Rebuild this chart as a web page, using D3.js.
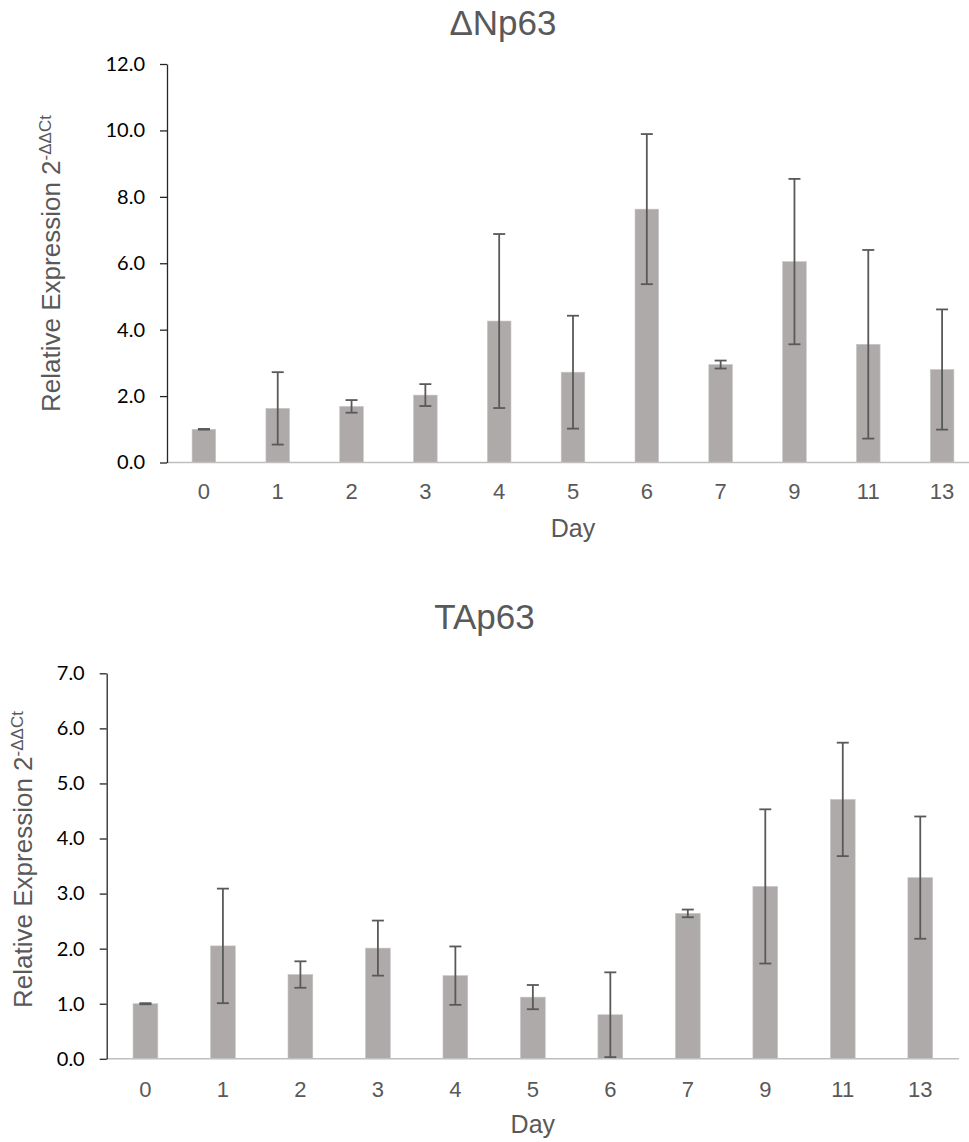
<!DOCTYPE html>
<html>
<head>
<meta charset="utf-8">
<script src="https://cdn.jsdelivr.net/npm/d3@7"></script>
<style>
  html, body { margin: 0; padding: 0; background: #fff; }
  svg { display: block; }
</style>
</head>
<body>
<svg id="fig" width="969" height="1142"></svg>
<script>
// Sampling days (shared by both panels)
const days = ["0", "1", "2", "3", "4", "5", "6", "7", "9", "11", "13"];

// ΔNp63 relative expression (mean) and error (±)
const dNp63Mean = [1.00, 1.63, 1.69, 2.03, 4.26, 2.72, 7.63, 2.95, 6.05, 3.56, 2.80];
const dNp63Err  = [0.01, 1.09, 0.19, 0.33, 2.62, 1.70, 2.26, 0.12, 2.49, 2.84, 1.81];

// TAp63 relative expression (mean) and error (±)
const tAp63Mean = [1.00, 2.05, 1.53, 2.01, 1.51, 1.12, 0.80, 2.64, 3.13, 4.71, 3.29];
const tAp63Err  = [0.01, 1.04, 0.24, 0.50, 0.53, 0.22, 0.77, 0.07, 1.40, 1.03, 1.11];

// Y-axis tick values
const dNp63Ticks = [0, 2, 4, 6, 8, 10, 12];
const tAp63Ticks = [0, 1, 2, 3, 4, 5, 6, 7];

const svg = d3.select("#fig");
const fmt = d3.format(".1f");

function drawPanel(p) {
  const g = svg.append("g");

  const x = d3.scaleBand()
    .domain(days)
    .range([p.left, p.right])
    .paddingInner(0.68)
    .paddingOuter(0.34);

  const y = d3.scaleLinear()
    .domain([0, p.yMax])
    .range([p.bottom, p.top]);

  const rows = days.map((d, i) => ({ day: d, mean: p.mean[i], err: p.err[i] }));

  // Bars
  g.selectAll("rect.bar")
    .data(rows)
    .join("rect")
    .attr("class", "bar")
    .attr("x", d => x(d.day))
    .attr("width", x.bandwidth())
    .attr("y", d => y(d.mean))
    .attr("height", d => y(0) - y(d.mean))
    .attr("fill", "#aeaaaa")
    .attr("stroke", "#c9c6c6")
    .attr("stroke-width", 0.6);

  // X axis baseline
  g.append("line")
    .attr("x1", p.left).attr("x2", p.right)
    .attr("y1", y(0)).attr("y2", y(0))
    .attr("stroke", "#bfbfbf")
    .attr("stroke-width", 1.5);

  // Error bars
  const capHalf = 6;
  const eb = g.selectAll("g.err")
    .data(rows)
    .join("g")
    .attr("class", "err")
    .attr("stroke", "#595959")
    .attr("stroke-width", 1.8);
  eb.append("line")
    .attr("x1", d => x(d.day) + x.bandwidth() / 2)
    .attr("x2", d => x(d.day) + x.bandwidth() / 2)
    .attr("y1", d => y(d.mean + d.err))
    .attr("y2", d => y(d.mean - d.err));
  eb.append("line")
    .attr("x1", d => x(d.day) + x.bandwidth() / 2 - capHalf)
    .attr("x2", d => x(d.day) + x.bandwidth() / 2 + capHalf)
    .attr("y1", d => y(d.mean + d.err))
    .attr("y2", d => y(d.mean + d.err));
  eb.append("line")
    .attr("x1", d => x(d.day) + x.bandwidth() / 2 - capHalf)
    .attr("x2", d => x(d.day) + x.bandwidth() / 2 + capHalf)
    .attr("y1", d => y(d.mean - d.err))
    .attr("y2", d => y(d.mean - d.err));

  // Y axis
  const yAxis = g.append("g")
    .attr("transform", `translate(${p.left},0)`)
    .call(d3.axisLeft(y).tickValues(p.ticks).tickFormat(fmt).tickSize(7).tickPadding(15).tickSizeOuter(0));
  yAxis.select(".domain").attr("stroke", "#262626").attr("stroke-width", 1.3);
  yAxis.selectAll(".tick line").attr("stroke", "#262626").attr("stroke-width", 1.3);
  yAxis.selectAll(".tick text")
    .attr("font-family", "Lato, 'Open Sans', sans-serif")
    .attr("font-size", 20)
    .attr("fill", "#000");

  // X tick labels
  g.selectAll("text.xlab")
    .data(rows)
    .join("text")
    .attr("class", "xlab")
    .attr("x", d => x(d.day) + x.bandwidth() / 2)
    .attr("y", p.xLabelY)
    .attr("text-anchor", "middle")
    .attr("font-family", "'Liberation Sans', Arial, sans-serif")
    .attr("font-size", 22)
    .attr("fill", "#595959")
    .text(d => d.day);

  // X axis title
  g.append("text")
    .attr("x", (p.left + p.right) / 2)
    .attr("y", p.dayY)
    .attr("text-anchor", "middle")
    .attr("font-family", "'Liberation Sans', Arial, sans-serif")
    .attr("font-size", 25)
    .attr("fill", "#595959")
    .text("Day");

  // Y axis title with superscript exponent
  const yt = g.append("text")
    .attr("transform", `translate(${p.yTitleX},${p.yTitleY}) rotate(-90)`)
    .attr("text-anchor", "middle")
    .attr("font-family", "'Liberation Sans', Arial, sans-serif")
    .attr("font-size", 26)
    .attr("fill", "#595959");
  yt.append("tspan").text("Relative Expression 2");
  yt.append("tspan").attr("font-size", 17).attr("dy", -9).text("-ΔΔCt");

  // Panel title
  g.append("text")
    .attr("x", p.titleX)
    .attr("y", p.titleY)
    .attr("text-anchor", "middle")
    .attr("font-family", "'Liberation Sans', Arial, sans-serif")
    .attr("font-size", 35)
    .attr("fill", "#595959")
    .text(p.title);
}

drawPanel({
  title: "ΔNp63", mean: dNp63Mean, err: dNp63Err, ticks: dNp63Ticks, yMax: 12,
  left: 167, right: 979, top: 64, bottom: 462.5,
  xLabelY: 499, dayY: 537, titleX: 503, titleY: 35,
  yTitleX: 59.5, yTitleY: 263.5
});

drawPanel({
  title: "TAp63", mean: tAp63Mean, err: tAp63Err, ticks: tAp63Ticks, yMax: 7,
  left: 106.7, right: 959, top: 673.3, bottom: 1058.8,
  xLabelY: 1097, dayY: 1133, titleX: 484.5, titleY: 629,
  yTitleX: 31.5, yTitleY: 859.5
});
</script>
</body>
</html>
